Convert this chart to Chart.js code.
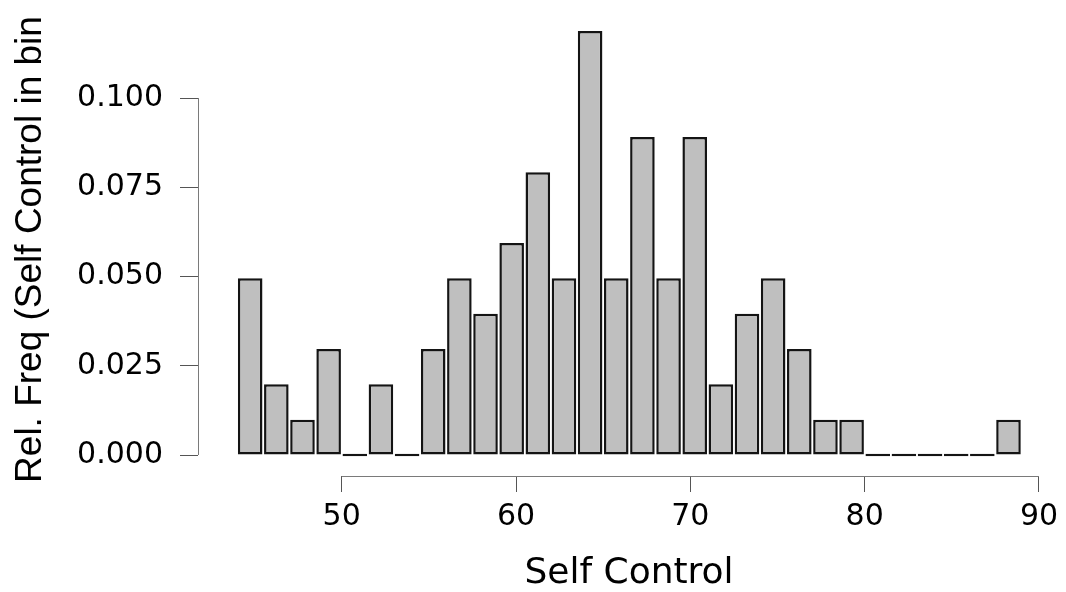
<!DOCTYPE html>
<html>
<head>
<meta charset="utf-8">
<script src="https://cdn.jsdelivr.net/npm/chart.js@4.4.0/dist/chart.umd.min.js"></script>
<style>
  html, body { margin: 0; padding: 0; background: #fff; }
  #wrap { width: 1066px; height: 592px; }
</style>
</head>
<body>
<div id="wrap"><canvas id="hist" width="1066" height="592"></canvas></div>
<script>
// histogram bins: lower edge of each bin, all 1.5 wide
const binWidth = 1.5;
const binStarts = [44, 45.5, 47, 48.5, 50, 51.5, 53, 54.5, 56, 57.5,
                   59, 60.5, 62, 63.5, 65, 66.5, 68, 69.5, 71, 72.5,
                   74, 75.5, 77, 78.5, 80, 81.5, 83, 84.5, 86, 87.5];
const relFreq = [0.0495, 0.0198, 0.0099, 0.0297, 0, 0.0198, 0, 0.0297, 0.0495, 0.0396,
                 0.0594, 0.0792, 0.0495, 0.1188, 0.0495, 0.0891, 0.0495, 0.0891, 0.0198, 0.0396,
                 0.0495, 0.0297, 0.0099, 0.0099, 0, 0, 0, 0, 0, 0.0099];
const xTicks = [50, 60, 70, 80, 90];
const yTicks = [0, 0.025, 0.05, 0.075, 0.1];
const xLabel = 'Self Control';
const yLabel = 'Rel. Freq (Self Control in bin';

// R style axes: the line only runs from first to last tick
const axisLines = {
    id: 'axisLines',
    afterDraw(chart) {
        const { ctx, chartArea, scales: { x, y } } = chart;
        ctx.save();
        ctx.strokeStyle = '#7a7a7a';
        ctx.lineWidth = 1;
        ctx.beginPath();
        const ax = Math.round(chartArea.left) + 0.5;
        ctx.moveTo(ax, y.getPixelForValue(yTicks[0]));
        ctx.lineTo(ax, y.getPixelForValue(yTicks[yTicks.length - 1]));
        const ay = Math.round(chartArea.bottom) + 0.5;
        ctx.moveTo(x.getPixelForValue(xTicks[0]), ay);
        ctx.lineTo(x.getPixelForValue(xTicks[xTicks.length - 1]), ay);
        ctx.stroke();
        ctx.restore();
    }
};

const tickFont = { family: 'DejaVu Sans', size: 30 };

new Chart(document.getElementById('hist').getContext('2d'), {
    type: 'bar',
    data: {
        datasets: [{
            data: binStarts.map((s, i) => ({ x: s + binWidth / 2, y: relFreq[i] })),
            backgroundColor: '#bfbfbf',
            borderColor: '#141414',
            borderWidth: 2.5,
            borderSkipped: false,
            barPercentage: 0.94,
            categoryPercentage: 1,
            minBarLength: 2.5,
        }],
    },
    options: {
        responsive: false,
        animation: false,
        layout: { padding: { top: 23, right: 6, left: 0, bottom: 0 } },
        plugins: { legend: { display: false }, tooltip: { enabled: false } },
        scales: {
            x: {
                type: 'linear',
                min: 41.756,
                max: 91.205,
                offset: false,
                afterBuildTicks: s => { s.ticks = xTicks.map(v => ({ value: v })); },
                afterFit: s => { s.height = 116; s.paddingLeft = 0; s.paddingRight = 0; },
                border: { display: false },
                grid: { drawOnChartArea: false, offset: false, tickLength: 16, color: '#555' },
                ticks: { font: tickFont, color: '#000', padding: 7, maxRotation: 0 },
                title: {
                    display: true,
                    text: xLabel,
                    color: '#000',
                    font: { family: 'DejaVu Sans', size: 36, lineHeight: 1 },
                    padding: { top: 0, bottom: 0 },
                },
            },
            y: {
                min: -0.00588,
                max: 0.12101,
                afterBuildTicks: s => { s.ticks = yTicks.map(v => ({ value: v })); },
                afterFit: s => { s.width = 198; s.paddingTop = 0; s.paddingBottom = 0; },
                border: { display: false },
                grid: { drawOnChartArea: false, tickLength: 18, color: '#555' },
                ticks: { font: tickFont, color: '#000', padding: 17, callback: v => v.toFixed(3) },
                title: {
                    display: true,
                    text: yLabel,
                    color: '#000',
                    font: { family: 'Liberation Sans', size: 37, lineHeight: 1 },
                    padding: { top: 12.5, bottom: 0 },
                },
            },
        },
    },
    plugins: [axisLines],
});
</script>
</body>
</html>
